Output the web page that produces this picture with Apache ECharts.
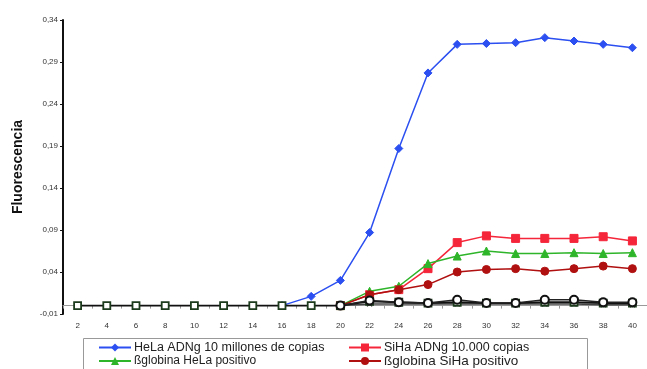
<!DOCTYPE html>
<html><head><meta charset="utf-8">
<script src="https://cdn.jsdelivr.net/npm/echarts@6/dist/echarts.min.js"></script>
<style>html,body{margin:0;padding:0;background:#fff}#c{width:647px;height:369px}</style>
</head><body><div id="c"></div>
<script>
var cycles = ['2','4','6','8','10','12','14','16','18','20','22','24','26','28','30','32','34','36','38','40'];
var yTicks = [-0.01, 0.04, 0.09, 0.14, 0.19, 0.24, 0.29, 0.34];
var helaAdn = [null,null,null,null,null,null,null,0,0.011,0.030,0.087,0.187,0.277,0.311,0.312,0.313,0.319,0.315,0.311,0.307];
var sihaAdn = [null,null,null,null,null,null,null,null,null,0,0.013,0.019,0.044,0.075,0.083,0.080,0.080,0.080,0.082,0.077];
var globHela = [null,null,null,null,null,null,null,null,null,0,0.017,0.023,0.050,0.059,0.065,0.062,0.062,0.063,0.062,0.063];
var globSiha = [null,null,null,null,null,null,null,null,null,0,0.013,0.019,0.025,0.040,0.043,0.044,0.041,0.044,0.047,0.044];
var negSquare = [0,0,0,0,0,0,0,0,0,0,0.005,0.004,0.003,0.004,0.003,0.003,0.004,0.004,0.003,0.003];
var negCircle = [null,null,null,null,null,null,null,null,null,0,0.006,0.004,0.003,0.007,0.003,0.003,0.007,0.007,0.004,0.004];
var negCross = [null,null,null,null,null,null,null,null,null,0,0.002,0.002,0.002,0.002,0.002,0.002,0.002,0.002,0.001,0.001];

var chart = echarts.init(document.getElementById('c'));
var font = 'Liberation Sans, Arial, sans-serif';
function s(name, data, color, symbol, size, z, extra) {
  var o = {name: name, type: 'line', data: data, symbol: symbol, symbolSize: size,
    lineStyle: {color: color, width: 1.5}, itemStyle: {color: color, borderColor: color},
    connectNulls: false, animation: false, z: z};
  if (extra) for (var k in extra) o[k] = extra[k];
  return o;
}
function leg(name, left, top, fs) {
  return {left: left, top: top, orient: 'horizontal', padding: 0, itemWidth: 32, itemHeight: 10,
    textStyle: {fontSize: fs, color: '#222', fontFamily: font, padding: [0,0,0,-2]},
    data: [name]};
}
chart.setOption({
  animation: false,
  grid: {left: 63, right: -8, top: 20, bottom: 55},
  xAxis: {type: 'category', data: cycles, boundaryGap: true,
    axisLine: {lineStyle: {color: '#999', width: 1}},
    axisTick: {show: true, length: 3, inside: false, lineStyle: {color: '#999'}},
    axisLabel: {fontSize: 8, color: '#333', fontFamily: font, margin: 8},
    splitLine: {show: false}},
  yAxis: {type: 'value', min: -0.01, max: 0.34, interval: 0.05,
    name: 'Fluorescencia', nameLocation: 'middle', nameGap: 38,
    nameTextStyle: {fontSize: 14, fontWeight: 'bold', color: '#111', fontFamily: font},
    axisLine: {show: true, lineStyle: {color: '#111', width: 2}},
    axisTick: {show: true, length: 3, lineStyle: {color: '#111'}},
    axisLabel: {fontSize: 8, color: '#333', fontFamily: font, margin: 5,
      formatter: function (v) { return v.toFixed(2).replace('.', ','); }},
    splitLine: {show: false}},
  legend: [
    leg('HeLa ADNg 10 millones de copias', 98, 341, 12.5),
    leg('ßglobina HeLa positivo', 98, 355, 12),
    leg('SiHa ADNg 10.000 copias', 348, 341, 12.5),
    leg('ßglobina SiHa positivo', 348, 354, 13.5)
  ],
  graphic: [{type: 'rect', shape: {x: 83.5, y: 338.5, width: 504, height: 40},
    style: {fill: 'none', stroke: '#999', lineWidth: 1}, z: -1}],
  series: [
    s('HeLa ADNg 10 millones de copias', helaAdn, '#2b4ff0', 'diamond', 8, 3),
    s('SiHa ADNg 10.000 copias', sihaAdn, '#f5263a', 'rect', 8, 3),
    s('ßglobina HeLa positivo', globHela, '#2fb52a', 'triangle', 8, 4),
    s('ßglobina SiHa positivo', globSiha, '#b01010', 'circle', 8, 4),
    s('negX', negCross, '#222', 'path://M0,0L10,10M10,0L0,10', 5, 5,
      {itemStyle: {color: 'none', borderColor: '#222', borderWidth: 1.2}, lineStyle: {color: '#444', width: 1.5}}),
    s('negSq', negSquare, '#111', 'rect', 7, 6,
      {itemStyle: {color: '#fff', borderColor: '#1c3a1c', borderWidth: 1.8}, lineStyle: {color: '#111', width: 1.8}}),
    s('negCi', negCircle, '#111', 'circle', 8, 7,
      {itemStyle: {color: '#fff', borderColor: '#111', borderWidth: 2}, lineStyle: {color: '#222', width: 1.5}})
  ]
});
</script></body></html>
